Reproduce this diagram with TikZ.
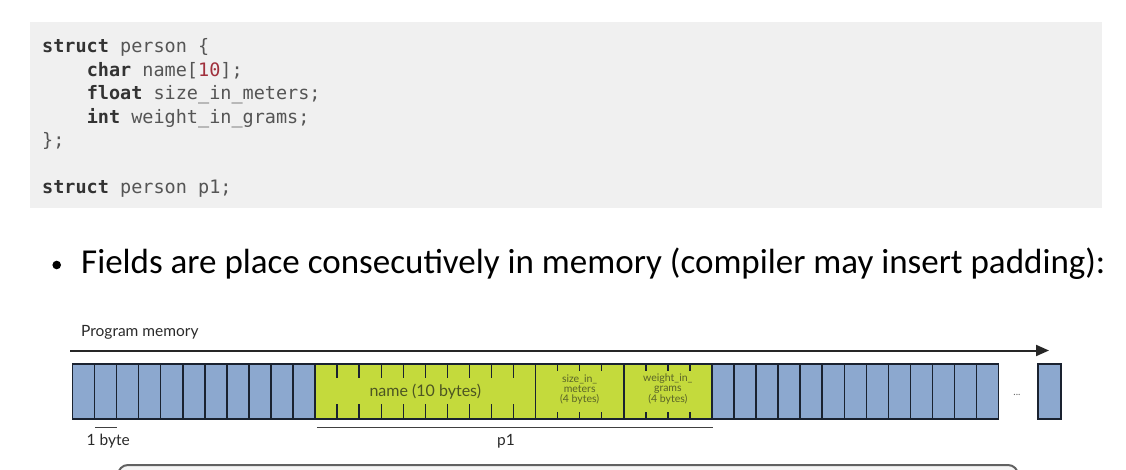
\documentclass[tikz,border=0pt]{standalone}
\usepackage{fontspec}
\setmainfont{Lato}
\newfontfamily\bulletfont{Carlito}
\newfontfamily\codefont{DejaVu Sans Mono}
\usetikzlibrary{arrows.meta,calc}
\definecolor{codebg}{HTML}{F0F0F0}
\definecolor{cellblue}{HTML}{8CA8CF}
\definecolor{cellgreen}{HTML}{C4DA3C}
\definecolor{celledge}{HTML}{1A2230}
\definecolor{kw}{HTML}{333333}
\definecolor{plain}{HTML}{555555}
\definecolor{numred}{HTML}{A0303C}
\definecolor{fieldtext}{HTML}{5A6428}
\definecolor{labeltext}{HTML}{2A2A2A}
\tikzset{
  codeline/.style={anchor=base west, inner sep=0pt, font=\codefont\fontsize{18.5}{20}\selectfont, text=plain},
  bluecell/.style={draw=celledge, fill=cellblue, line width=1.5pt, minimum height=55pt, inner sep=0pt},
  greencell/.style={draw=celledge, fill=cellgreen, line width=1.5pt, minimum height=55pt, inner sep=0pt},
  tick/.style={draw=celledge, line width=1.4pt},
  bar/.style={draw=black!75, line width=1.5pt},
  memlabel/.style={anchor=base west, inner sep=0pt, font=\fontsize{15.5}{17}\selectfont, text=labeltext},
  smalllabel/.style={align=center, inner sep=0pt, font=\fontsize{10.5}{10}\selectfont, text=fieldtext},
}
\begin{document}
\begin{tikzpicture}[x=1pt,y=-1pt]
\useasboundingbox (0,0) rectangle (1126,470);
\clip (0,0) rectangle (1126,470);
% code box
\fill[codebg] (30,22) rectangle (1102,208);
\node[codeline] (c1) at (42,53) {\textbf{\color{kw}struct} person \{};
\node[codeline] (c2) at (42,76.5) {\phantom{xxxx}\textbf{\color{kw}char} name[{\color{numred}10}];};
\node[codeline] (c3) at (42,100) {\phantom{xxxx}\textbf{\color{kw}float} size\_in\_meters;};
\node[codeline] (c4) at (42,123.5) {\phantom{xxxx}\textbf{\color{kw}int} weight\_in\_grams;};
\node[codeline] (c5) at (42,147) {\};};
\node[codeline] (c6) at (42,193.5) {\textbf{\color{kw}struct} person p1;};
% bullet
\fill[black] (56.7,265) circle (4.3);
\node[anchor=base west, inner sep=0pt, font=\bulletfont\fontsize{35}{38}\selectfont, text=black] (bt) at (81,273.5)
  {Fields are place consecutively in memory (compiler may insert padding):};
% memory label and arrow
\node[memlabel] (pm) at (81,336.5) {Program memory};
\coordinate (ms) at (70,350.5);
\coordinate (me) at (1049,350.5);
\draw[line width=2pt, black!85, -{Triangle[length=13pt,width=11pt]}] (ms) -- (me);
% cells
\def\w{22.05}
\foreach \i in {0,...,10} {
  \node[bluecell, minimum width=\w pt] (b\i) at ({72.5+\w*(\i+0.5)},391.5) {};
}
\node[greencell, minimum width=220.5pt] (namef) at ({72.5+\w*16},391.5) {};
\node[greencell, minimum width=88.2pt] (sizef) at ({72.5+\w*23},391.5) {};
\node[greencell, minimum width=88.2pt] (weightf) at ({72.5+\w*27},391.5) {};
\foreach \i in {29,...,41} {
  \node[bluecell, minimum width=\w pt] (b\i) at ({72.5+\w*(\i+0.5)},391.5) {};
}
\node[bluecell, minimum width=23pt] (blast) at (1049.5,391.5) {};
\node[inner sep=0pt, font=\fontsize{10}{10}\selectfont, text=black!60] (dots) at (1017,395) {...};
% ticks inside name
\foreach \i in {12,...,20} {
  \draw[tick] ({72.5+\w*\i},364) -- ++(0,14);
  \draw[tick] ({72.5+\w*\i},419) -- ++(0,-15);
}
% ticks inside size and weight
\foreach \i in {22,23,24,26,27,28} {
  \draw[tick] ({72.5+\w*\i},364) -- ++(0,7);
  \draw[tick] ({72.5+\w*\i},419) -- ++(0,-7);
}
\node[inner sep=0pt, font=\fontsize{16}{18}\selectfont, text=fieldtext!85!black] (nl) at (namef.center) {name (10 bytes)};
\node[smalllabel] (sl) at ($(sizef.center)+(0,-2)$) {size\_in\_\\meters\\(4 bytes)};
\node[smalllabel] (wl) at ($(weightf.center)+(0,-2)$) {weight\_in\_\\grams\\(4 bytes)};
% bars
\draw[bar] ($(b1.south west)+(1.5,7.5)$) -- ($(b1.south east)+(0,7.5)$);
\node[memlabel] (ob) at (86.5,445) {1 byte};
\draw[bar] ($(namef.south west)+(2.5,7.5)$) -- ($(weightf.south east)+(0,7.5)$);
\node[memlabel] (pl) at (497,445) {p1};
% bottom box (partially visible)
\draw[draw=black!62, fill=black!4, line width=2pt, rounded corners=10pt] (118,465) rectangle (1018,540);
\end{tikzpicture}
\end{document}
